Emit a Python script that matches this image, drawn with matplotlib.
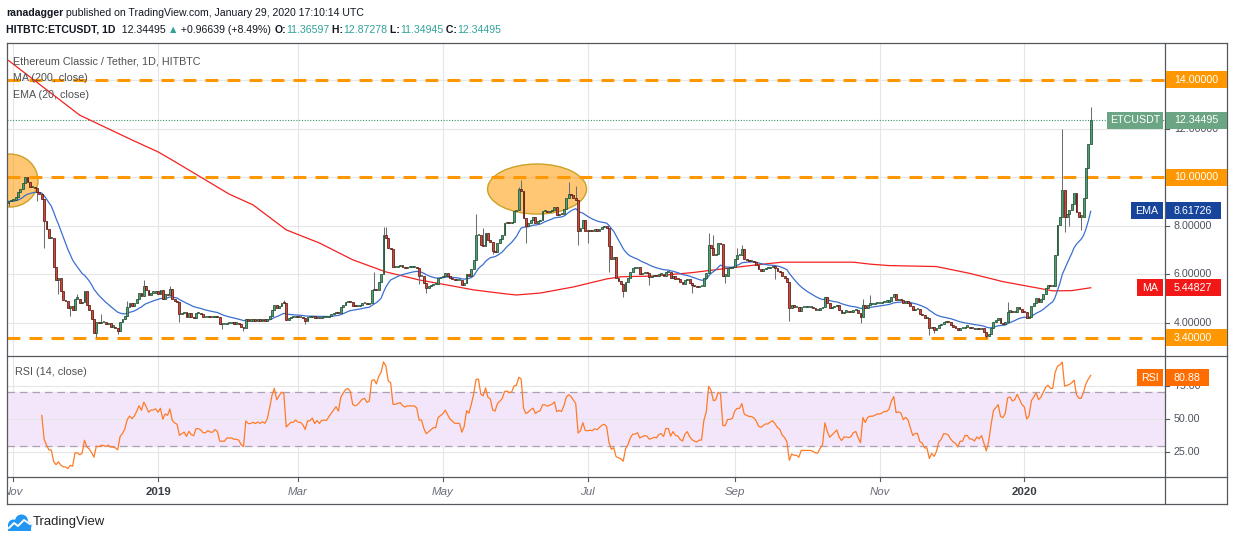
import matplotlib
matplotlib.use("Agg")
import matplotlib.pyplot as plt
from matplotlib import font_manager
from matplotlib.patches import Ellipse, Rectangle
from matplotlib.lines import Line2D
from matplotlib.transforms import Bbox
import numpy as np
import pandas as pd

W, H = 1234, 541

installed = {f.name for f in font_manager.fontManager.ttflist}
NARROW = 'Liberation Sans Narrow' in installed
FONT = 'Liberation Sans Narrow' if NARROW else 'Liberation Sans'
plt.rcParams['font.family'] = [FONT, 'DejaVu Sans']
SCALE = 1.0 if NARROW else 0.86  # Arial-width font needs smaller sizes

# ---- data ----
start_date = '2018-10-30'
first_open = 8.95
closes = [
    # Oct 30 2018 ->
    9.0, 9.05, 9.05, 9.2, 9.4, 9.5, 9.75, 10.0, 9.8, 9.6,
    9.6, 9.55, 9.4, 9.3, 9.1, 8.2, 7.85, 7.5, 7.5, 6.3,
    5.75, 5.85, 5.3, 4.95, 4.9, 4.6, 4.7, 4.55, 5.0, 5.0,
    4.8, 4.85, 5.3, 4.75, 4.55, 4.15, 3.6, 4.05, 4.0, 4.05,
    4.05, 3.95, 4.0, 3.85, 3.85, 3.8, 3.66, 4.05, 4.15, 4.3,
    4.65, 4.8, 4.7, 4.8, 5.0, 5.25, 5.1, 5.5, 5.35, 5.15,
    5.25, 5.25, 5.3, 5.2, 5.35, 5.0, 5.2, 5.15, 5.4, 5.0,
    4.9, 4.85, 4.35, 4.4, 4.45, 4.25, 4.4, 4.25, 4.2, 4.4,
    4.4, 4.35, 4.25, 4.25, 4.3, 4.25, 4.25, 4.3, 4.25, 3.95,
    3.95, 3.95, 4.0, 4.0,
    # Feb 2019 ->
    4.0, 3.97, 3.97, 3.95, 3.85, 3.8,
    4.15, 4.1, 4.1, 4.12, 4.1, 4.12, 4.1, 4.12, 4.1, 4.15,
    4.3, 4.55, 4.75, 4.6, 4.7, 4.82, 4.8, 4.14, 4.2, 4.25,
    4.25, 4.3, 4.25, 4.25, 4.2, 4.1, 4.25, 4.25, 4.3, 4.2,
    4.25, 4.2, 4.25, 4.25, 4.25, 4.3, 4.35, 4.4, 4.45, 4.4,
    4.65, 4.75, 4.85, 4.88, 4.85, 4.7, 4.68, 4.7, 4.75, 4.8,
    4.82, 4.78, 4.8, 5.35, 5.4, 5.35, 5.7, 6.0, 7.6, 7.5,
    7.1, 7.05, 6.3, 6.3, 6.35, 6.4, 6.3, 6.25, 6.3, 6.3,
    6.3, 6.3, 6.25, 5.92, 5.92, 5.65, 5.45, 5.5, 5.55, 5.6,
    5.6, 5.85, 5.9, 5.95, 6.05, 5.95,
    # May 2019 ->
    5.85, 5.8, 5.75, 5.75,
    5.75, 5.55, 5.65, 6.0, 5.95, 6.2, 6.6, 7.6, 7.6, 7.2,
    7.15, 7.7, 7.4, 7.35, 6.95, 6.9, 7.3, 7.45, 7.6, 8.1,
    8.15, 8.1, 8.15, 8.6, 8.65, 9.5, 9.45, 8.3, 8.0, 8.1,
    8.25, 8.35, 8.1, 8.2, 8.25, 8.6, 8.6, 8.55, 8.6, 8.65,
    8.77, 8.45, 8.5, 8.47, 8.7, 9.15, 9.3, 9.25, 9.15, 9.05,
    7.8, 7.9, 8.25, 7.8, 7.78, 7.8, 7.78, 7.85, 7.8, 7.88,
    7.95, 7.98, 7.9, 7.15, 6.65, 6.7, 5.85, 5.72, 5.6, 5.3,
    5.7, 5.85, 6.1, 6.25, 6.25, 6.3, 6.0, 6.05, 6.08, 6.05,
    5.9, 5.92, 5.95, 5.92, 6.0, 6.02, 5.92,
    # Aug 2019 ->
    6.1, 6.1, 5.85,
    5.95, 5.82, 5.8, 5.68, 5.62, 5.75, 5.8, 5.65, 5.55, 5.5,
    5.47, 5.5, 5.5, 5.85, 6.05, 7.2, 7.1, 6.8, 6.85, 7.3,
    7.25, 5.95, 5.95, 6.25, 6.25, 6.3, 6.65, 6.8, 6.8, 7.05,
    6.65, 6.6, 6.55, 6.55, 6.5, 6.4, 6.2, 6.15, 6.2, 6.25,
    6.25, 6.3, 6.33, 6.25, 6.15, 6.1, 5.93, 5.85, 5.7, 4.6,
    4.75, 4.65, 4.65, 4.5, 4.65, 4.65, 4.65, 4.65, 4.65, 4.6,
    4.53, 4.53, 4.6, 4.65, 5.05, 4.8, 4.6, 4.65, 4.7, 4.75,
    4.53, 4.4, 4.47, 4.47, 4.45, 4.47, 4.53, 4.55, 4.4, 4.25,
    4.75, 4.62, 4.75, 4.78, 4.78, 4.8, 4.83, 4.83, 4.85, 4.88,
    4.88, 4.92,
    # Nov 2019 ->
    5.08, 5.19, 4.95, 4.97, 4.95, 4.84, 4.88, 4.84, 4.7, 4.53,
    4.56, 4.56, 4.37, 4.33, 4.19, 4.19, 3.78, 3.85, 3.71, 3.78,
    3.92, 3.96, 4.05, 4.05, 4.02, 3.92, 3.85, 3.81, 3.71, 3.78,
    3.78, 3.85, 3.85, 3.78, 3.78, 3.74,
    3.78, 3.75, 3.78, 3.64, 3.46, 3.56, 3.78, 4.05, 4.12,
    4.19, 3.98, 3.96, 4.05, 4.47, 4.5, 4.43, 4.47, 4.64, 4.56,
    4.47, 4.43, 4.19, 4.26, 4.7, 4.84, 5.02, 4.88, 4.97, 5.19,
    5.43, 5.56, 5.5, 5.5, 6.8, 8.03, 8.38, 9.47, 8.38, 8.5,
    8.65, 8.9, 9.34, 8.58, 8.38, 8.38, 9.13, 10.36, 11.36597, 12.34495,
]
wick_high = {29: 5.2, 39: 4.35, 50: 4.9, 57: 5.75, 68: 5.5, 116: 4.95, 154: 6.1,
             158: 7.95, 159: 7.95, 197: 8.5, 200: 7.9, 215: 9.6, 216: 9.87, 236: 9.8,
             239: 9.65, 295: 7.7, 297: 7.6, 307: 7.1, 309: 7.2, 360: 5.0, 363: 5.15,
             421: 4.88, 444: 12.0, 456: 12.87278}
wick_low = {0: 8.8, 12: 9.0, 15: 7.1, 21: 5.2, 26: 4.3, 37: 3.42, 46: 3.55, 72: 4.05,
            90: 3.75, 99: 3.65, 125: 3.95, 173: 5.6, 176: 5.25, 204: 6.85, 218: 7.3,
            240: 7.2, 244: 7.3, 253: 6.1, 259: 5.05, 270: 5.55, 288: 5.25, 302: 5.65,
            323: 5.8, 329: 4.1, 359: 4.0, 388: 3.5, 390: 3.57, 412: 3.37, 445: 7.75,
            447: 8.0, 452: 7.83, 456: 11.34945}

# MA(200) (day index, price)
ma200_days = [0, 30, 52, 63, 69, 81, 93, 103, 117, 131, 145, 159, 173, 186, 196, 210,
              214, 224, 238, 252, 258, 272, 288, 303, 317, 326, 356, 363, 371, 391, 405,
              419, 434, 440, 448, 456]
ma200_vals = [14.8, 12.55, 11.53, 11.04, 10.7, 10.0, 9.3, 8.86, 7.83, 7.29, 6.6, 6.1, 5.77,
              5.54, 5.36, 5.19, 5.15, 5.23, 5.48, 5.81, 5.9, 5.93, 6.07, 6.25, 6.41, 6.5,
              6.5, 6.42, 6.36, 6.32, 6.04, 5.7, 5.43, 5.32, 5.33, 5.448]

levels = [14.0, 10.0, 3.4]
price_ticks = [4, 6, 8, 10, 12, 14]
rsi_ticks = [25, 50, 75]
month_dates = ['2018-11-01', '2019-01-01', '2019-03-01', '2019-05-01',
               '2019-07-01', '2019-09-01', '2019-11-01', '2020-01-01']
month_labels = ['Nov', '2019', 'Mar', 'May', 'Jul', 'Sep', 'Nov', '2020']
# highlighted zones: (day centre, price centre, width in days, height in price)
zones = [(0.6, 9.86, 23.6, 2.18), (222.7, 9.51, 41.7, 2.06)]
ema_label, ma_label, rsi_label = 8.61726, 5.44827, 80.88

# ---- colours ----
UP, UP_EDGE = '#4f9f74', '#1f5034'
DN, DN_EDGE = '#cf4a3a', '#5b1a13'
ORANGE = '#ff9800'
GRID = '#e6e6e8'
FRAME = '#55585f'
TXT = '#4c525e'
TEAL = '#2fa39a'

fig = plt.figure(figsize=(W / 100, H / 100), dpi=100)


def px_rect(x0, y0, x1, y1):
    return [x0 / W, 1 - y1 / H, (x1 - x0) / W, (y1 - y0) / H]


ax = fig.add_axes(px_rect(6.5, 43, 1165, 355.5))
ax_rsi = fig.add_axes(px_rect(6.5, 355.5, 1165, 477))

c = np.array(closes)
o = np.concatenate([[first_open], c[:-1]])
hi = np.maximum(o, c)
lo = np.minimum(o, c)
for k, v in wick_high.items():
    hi[k] = v
for k, v in wick_low.items():
    lo[k] = v
x = np.arange(len(c))
up = c >= o

day0 = pd.Timestamp(start_date)
tick_x = [(pd.Timestamp(d) - day0).days for d in month_dates]

xlim = (-0.86, 487.3)
for a in (ax, ax_rsi):
    a.set_xlim(*xlim)
    a.set_xticks([])
    a.set_yticks([])
    for s in a.spines.values():
        s.set_visible(False)
    for t in tick_x:
        a.axvline(t, color=GRID, lw=0.8, zorder=0)

ax.set_ylim(2.66, 15.52)
ax_rsi.set_ylim(6.7, 97.4)

for p in price_ticks:
    ax.axhline(p, color=GRID, lw=0.8, zorder=0)

for xc, yc, wd, ht in zones:
    ax.add_patch(Ellipse((xc, yc), wd, ht, fc=(1.0, 0.6, 0.0, 0.55),
                         ec='#c9a227', lw=1.0, zorder=1))

for lv in levels:
    ax.axhline(lv, color=ORANGE, lw=2.2, dashes=(4.2, 3.0), zorder=2)

ax.axhline(c[-1], color='#3f9466', lw=0.8, ls=(0, (1, 1.5)), zorder=2)

ax.plot(ma200_days, ma200_vals, color='#f42020', lw=0.9, zorder=3)
ema = pd.Series(c).ewm(span=20, adjust=False).mean()
ax.plot(x, ema, color='#3b6fd0', lw=0.9, zorder=3)

ax.vlines(x, lo, hi, color='#6f6f72', lw=0.75, zorder=4)
bottom = np.minimum(o, c)
height = np.maximum(np.abs(c - o), 0.05)
ax.bar(x[up], height[up], bottom=bottom[up], width=0.78, color=UP,
       edgecolor=UP_EDGE, lw=0.55, zorder=5)
ax.bar(x[~up], height[~up], bottom=bottom[~up], width=0.78, color=DN,
       edgecolor=DN_EDGE, lw=0.55, zorder=5)

# legend text
for yy, s in [(61, 'Ethereum Classic / Tether, 1D, HITBTC'),
              (78, 'MA (200, close)'), (95, 'EMA (20, close)')]:
    fig.text(13 / W, 1 - yy / H, s, fontsize=9 * SCALE, color='#505050', va='center', ha='left')

# ---- RSI ----
delta = np.diff(c)
gain = np.clip(delta, 0, None)
loss = np.clip(-delta, 0, None)
avg_g = np.full(len(c), np.nan)
avg_l = np.full(len(c), np.nan)
avg_g[14] = gain[:14].mean()
avg_l[14] = loss[:14].mean()
for k in range(15, len(c)):
    avg_g[k] = (avg_g[k - 1] * 13 + gain[k - 1]) / 14
    avg_l[k] = (avg_l[k - 1] * 13 + loss[k - 1]) / 14
rsi = 100 - 100 / (1 + avg_g / avg_l)

ax_rsi.axhspan(30, 70, color='#f3e6fb', zorder=0.5)
for r in rsi_ticks:
    ax_rsi.axhline(r, color=GRID, lw=0.8, zorder=0.6)
for r in (30, 70):
    ax_rsi.axhline(r, color='#a9a3ad', lw=0.9, dashes=(6, 4), zorder=1)
ax_rsi.plot(x, rsi, color='#ff7b25', lw=0.9, zorder=3)
fig.text(15 / W, 1 - 372 / H, 'RSI (14, close)', fontsize=9 * SCALE, color='#505050',
         va='center')

fig.canvas.draw()


def y_of(a, v):
    return a.transData.transform((0, v))[1]


# ---- frame ----
def fline(x0, y0, x1, y1, color=FRAME, lw=0.9):
    fig.add_artist(Line2D([x0 / W, x1 / W], [1 - y0 / H, 1 - y1 / H], color=color, lw=lw,
                          transform=fig.transFigure, zorder=10))


fline(6.5, 43, 1227, 43)
fline(6.5, 43, 6.5, 504)
fline(1227, 43, 1227, 504)
fline(6.5, 504, 1227, 504)
fline(1165, 43, 1165, 504)
fline(6.5, 355.5, 1227, 355.5)
fline(6.5, 477, 1227, 477)

AXFS = 8.9 * SCALE

# price axis labels
for p in price_ticks:
    yd = y_of(ax, p)
    fig.text(1174 / W, yd / H, f'{p:.5f}', fontsize=AXFS, color=TXT, va='center', ha='left')
    fig.add_artist(Line2D([1165 / W, 1169 / W], [yd / H, yd / H], color=FRAME, lw=0.8,
                          transform=fig.transFigure))
for r in rsi_ticks:
    yd = y_of(ax_rsi, r)
    fig.text(1174 / W, yd / H, f'{r:.2f}', fontsize=AXFS, color=TXT, va='center', ha='left')
    fig.add_artist(Line2D([1165 / W, 1169 / W], [yd / H, yd / H], color=FRAME, lw=0.8,
                          transform=fig.transFigure))


def box(x0, x1, yd, fc, text, ha='left'):
    h = 17
    fig.add_artist(Rectangle((x0 / W, (yd - h / 2) / H), (x1 - x0) / W, h / H, fc=fc, ec='none',
                             transform=fig.transFigure, zorder=11))
    tx = (x0 + x1) / 2 if ha == 'center' else x0 + 8
    fig.text(tx / W, yd / H, text, fontsize=AXFS, color='white', va='center', ha=ha, zorder=12)


for lv in levels:
    box(1166, 1227, y_of(ax, lv), ORANGE, f'{lv:.5f}')
box(1107, 1163, y_of(ax, c[-1]), '#6ba583', 'ETCUSDT', 'center')
box(1166, 1227, y_of(ax, c[-1]), '#6ba583', f'{c[-1]:.5f}')
box(1131, 1163, y_of(ax, ema_label), '#17459c', 'EMA', 'center')
box(1166, 1221, y_of(ax, ema_label), '#17459c', f'{ema_label:.5f}')
box(1137, 1163, y_of(ax, ma_label), '#f31818', 'MA', 'center')
box(1166, 1221, y_of(ax, ma_label), '#f31818', f'{ma_label:.5f}')
box(1137, 1163, y_of(ax_rsi, rsi_label), '#ff6d00', 'RSI', 'center')
box(1166, 1209, y_of(ax_rsi, rsi_label), '#ff6d00', f'{rsi_label:.2f}')

# time axis labels (clipped to the time band, like the cut-off first "Nov")
time_band = Bbox.from_extents(7.5, H - 504, 1165, H - 477)
for t, lab in zip(tick_x, month_labels):
    xd = ax_rsi.transData.transform((t, 0))[0]
    fig.add_artist(Line2D([xd / W, xd / W], [1 - 477 / H, 1 - 481 / H], color=FRAME, lw=0.8,
                          transform=fig.transFigure))
    is_year = lab.isdigit()
    lt = fig.text(xd / W, 1 - 492 / H, lab, fontsize=9.6 * SCALE, ha='center', va='center',
                  color='#3a3e47' if is_year else '#6a6e78',
                  fontweight='bold' if is_year else 'normal',
                  fontstyle='normal' if is_year else 'italic')
    lt.set_clip_box(time_band)
    lt.set_clip_on(True)

# header
renderer = fig.canvas.get_renderer()


def segments(y, parts, x0=6, fs=9.4):
    xx = x0
    for s, color, bold in parts:
        t = fig.text(xx / W, 1 - y / H, s, fontsize=fs, color=color, va='center', ha='left',
                     fontweight='bold' if bold else 'normal')
        xx += t.get_window_extent(renderer).width


DARK = '#131722'
HFS = 9.4 if NARROW else 7.6
segments(13, [('ranadagger', DARK, True),
              (' published on TradingView.com, January 29, 2020 17:10:14 UTC', DARK, False)],
         fs=HFS)
segments(30, [('HITBTC:ETCUSDT, 1D', DARK, True), ('  12.34495 ', DARK, False),
              ('\u25B2', TEAL, False), (' +0.96639 (+8.49%) ', DARK, False),
              ('O:', DARK, True), ('11.36597', TEAL, False), (' H:', DARK, True),
              ('12.87278', TEAL, False), (' L:', DARK, True), ('11.34945', TEAL, False),
              (' C:', DARK, True), ('12.34495', TEAL, False)], fs=HFS)

# TradingView logo
BLUE = '#2196f3'
for cx, cy, r in [(13.5, 525, 5.5), (21.5, 521, 6.5), (27, 526, 4.5)]:
    fig.add_artist(Ellipse((cx / W, 1 - cy / H), 2 * r / W, 2 * r / H, fc=BLUE, ec='none',
                           transform=fig.transFigure))
fig.add_artist(Rectangle((8 / W, 1 - 530.5 / H), 23 / W, 6 / H, fc=BLUE, ec='none',
                         transform=fig.transFigure))
fig.add_artist(Line2D([9 / W, 14 / W, 18 / W, 24 / W, 30 / W],
                      [1 - 528 / H, 1 - 523 / H, 1 - 526 / H, 1 - 520 / H, 1 - 524 / H],
                      color='white', lw=1.4, transform=fig.transFigure))
fig.text(33 / W, 1 - 522 / H, 'TradingView', fontsize=11 * SCALE, color='#222',
         va='center', ha='left')

fig.savefig('out.png', dpi=100)
